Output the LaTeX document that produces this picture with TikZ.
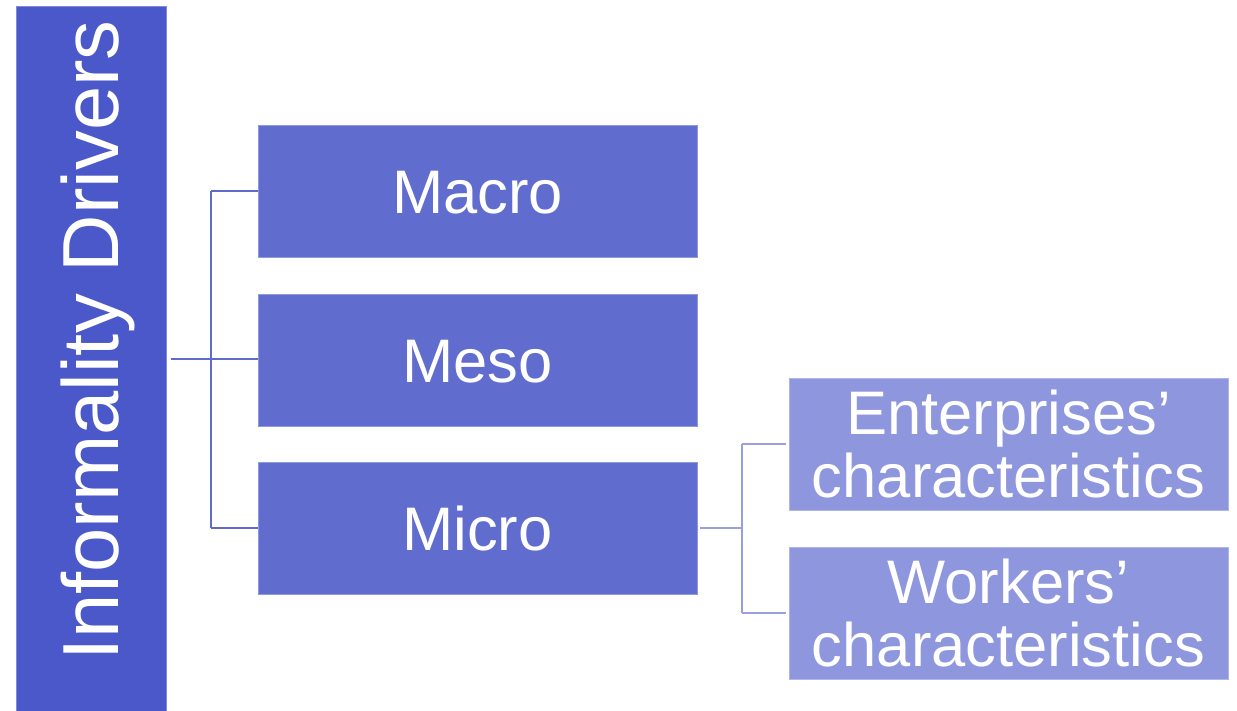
\documentclass[tikz,border=0pt]{standalone}
\usepackage{fontspec}
\setmainfont{Liberation Sans}
\definecolor{rootblue}{HTML}{4B58C9}
\definecolor{midblue}{HTML}{616CCF}
\definecolor{leafblue}{HTML}{8E96DD}
\definecolor{linkdark}{HTML}{5F6ACB}
\definecolor{linklight}{HTML}{9AA0DE}
\begin{document}
\begin{tikzpicture}[x=1pt,y=-1pt,
  box/.style={rectangle, inner sep=0pt, text=white, align=center,
    minimum width=439pt, minimum height=132pt,
    font=\fontsize{61.5}{63}\selectfont},
  midbox/.style={box, fill=midblue, draw=midblue!70!white, line width=0.8pt},
  leafbox/.style={box, fill=leafblue, draw=leafblue!70!white, line width=0.8pt},
  darklink/.style={draw=linkdark, line width=2.4pt},
  lightlink/.style={draw=linklight, line width=2.4pt}]
  \useasboundingbox (0,0) rectangle (1237,710);

  % root column
  \node[rectangle, inner sep=0pt, fill=rootblue, draw=rootblue!70!white, line width=0.8pt,
        minimum width=150pt, minimum height=705pt, anchor=north west] (root) at (16,6) {};
  \node[rotate=90, anchor=base west, inner sep=0pt, text=white,
        font=\fontsize{79.5}{82}\selectfont] (roottext) at (118,661) {Informality Drivers};

  % second level
  \node[midbox, text height=44pt, text depth=0pt] (macro) at (477.5,191) {Macro};
  \node[midbox, text height=44pt, text depth=0pt] (meso)  at (477.5,360) {Meso};
  \node[midbox, text height=44pt, text depth=0pt] (micro) at (477.5,528) {Micro};

  % third level
  \node[leafbox] (ent) at (1008.5,444) {Enterprises’\\characteristics};
  \node[leafbox] (wrk) at (1008.5,613) {Workers’\\characteristics};

  % connectors from the root
  \coordinate (trunk) at (211,359);
  \draw[darklink] ([xshift=4pt]root.east |- trunk) -- (meso.west |- trunk);
  \draw[darklink] (trunk |- macro.west) -- (trunk |- micro.west);
  \draw[darklink] (trunk |- macro.west) -- (macro.west);
  \draw[darklink] (trunk |- micro.west) -- (micro.west);

  % connectors from Micro
  \coordinate (fork) at (742,528);
  \draw[lightlink] ([xshift=3pt]micro.east) -- (fork);
  \draw[lightlink] (fork |- ent.west) -- (fork |- wrk.west);
  \draw[lightlink] (fork |- ent.west) -- ([xshift=-3pt]ent.west);
  \draw[lightlink] (fork |- wrk.west) -- ([xshift=-3pt]wrk.west);
\end{tikzpicture}
\end{document}
